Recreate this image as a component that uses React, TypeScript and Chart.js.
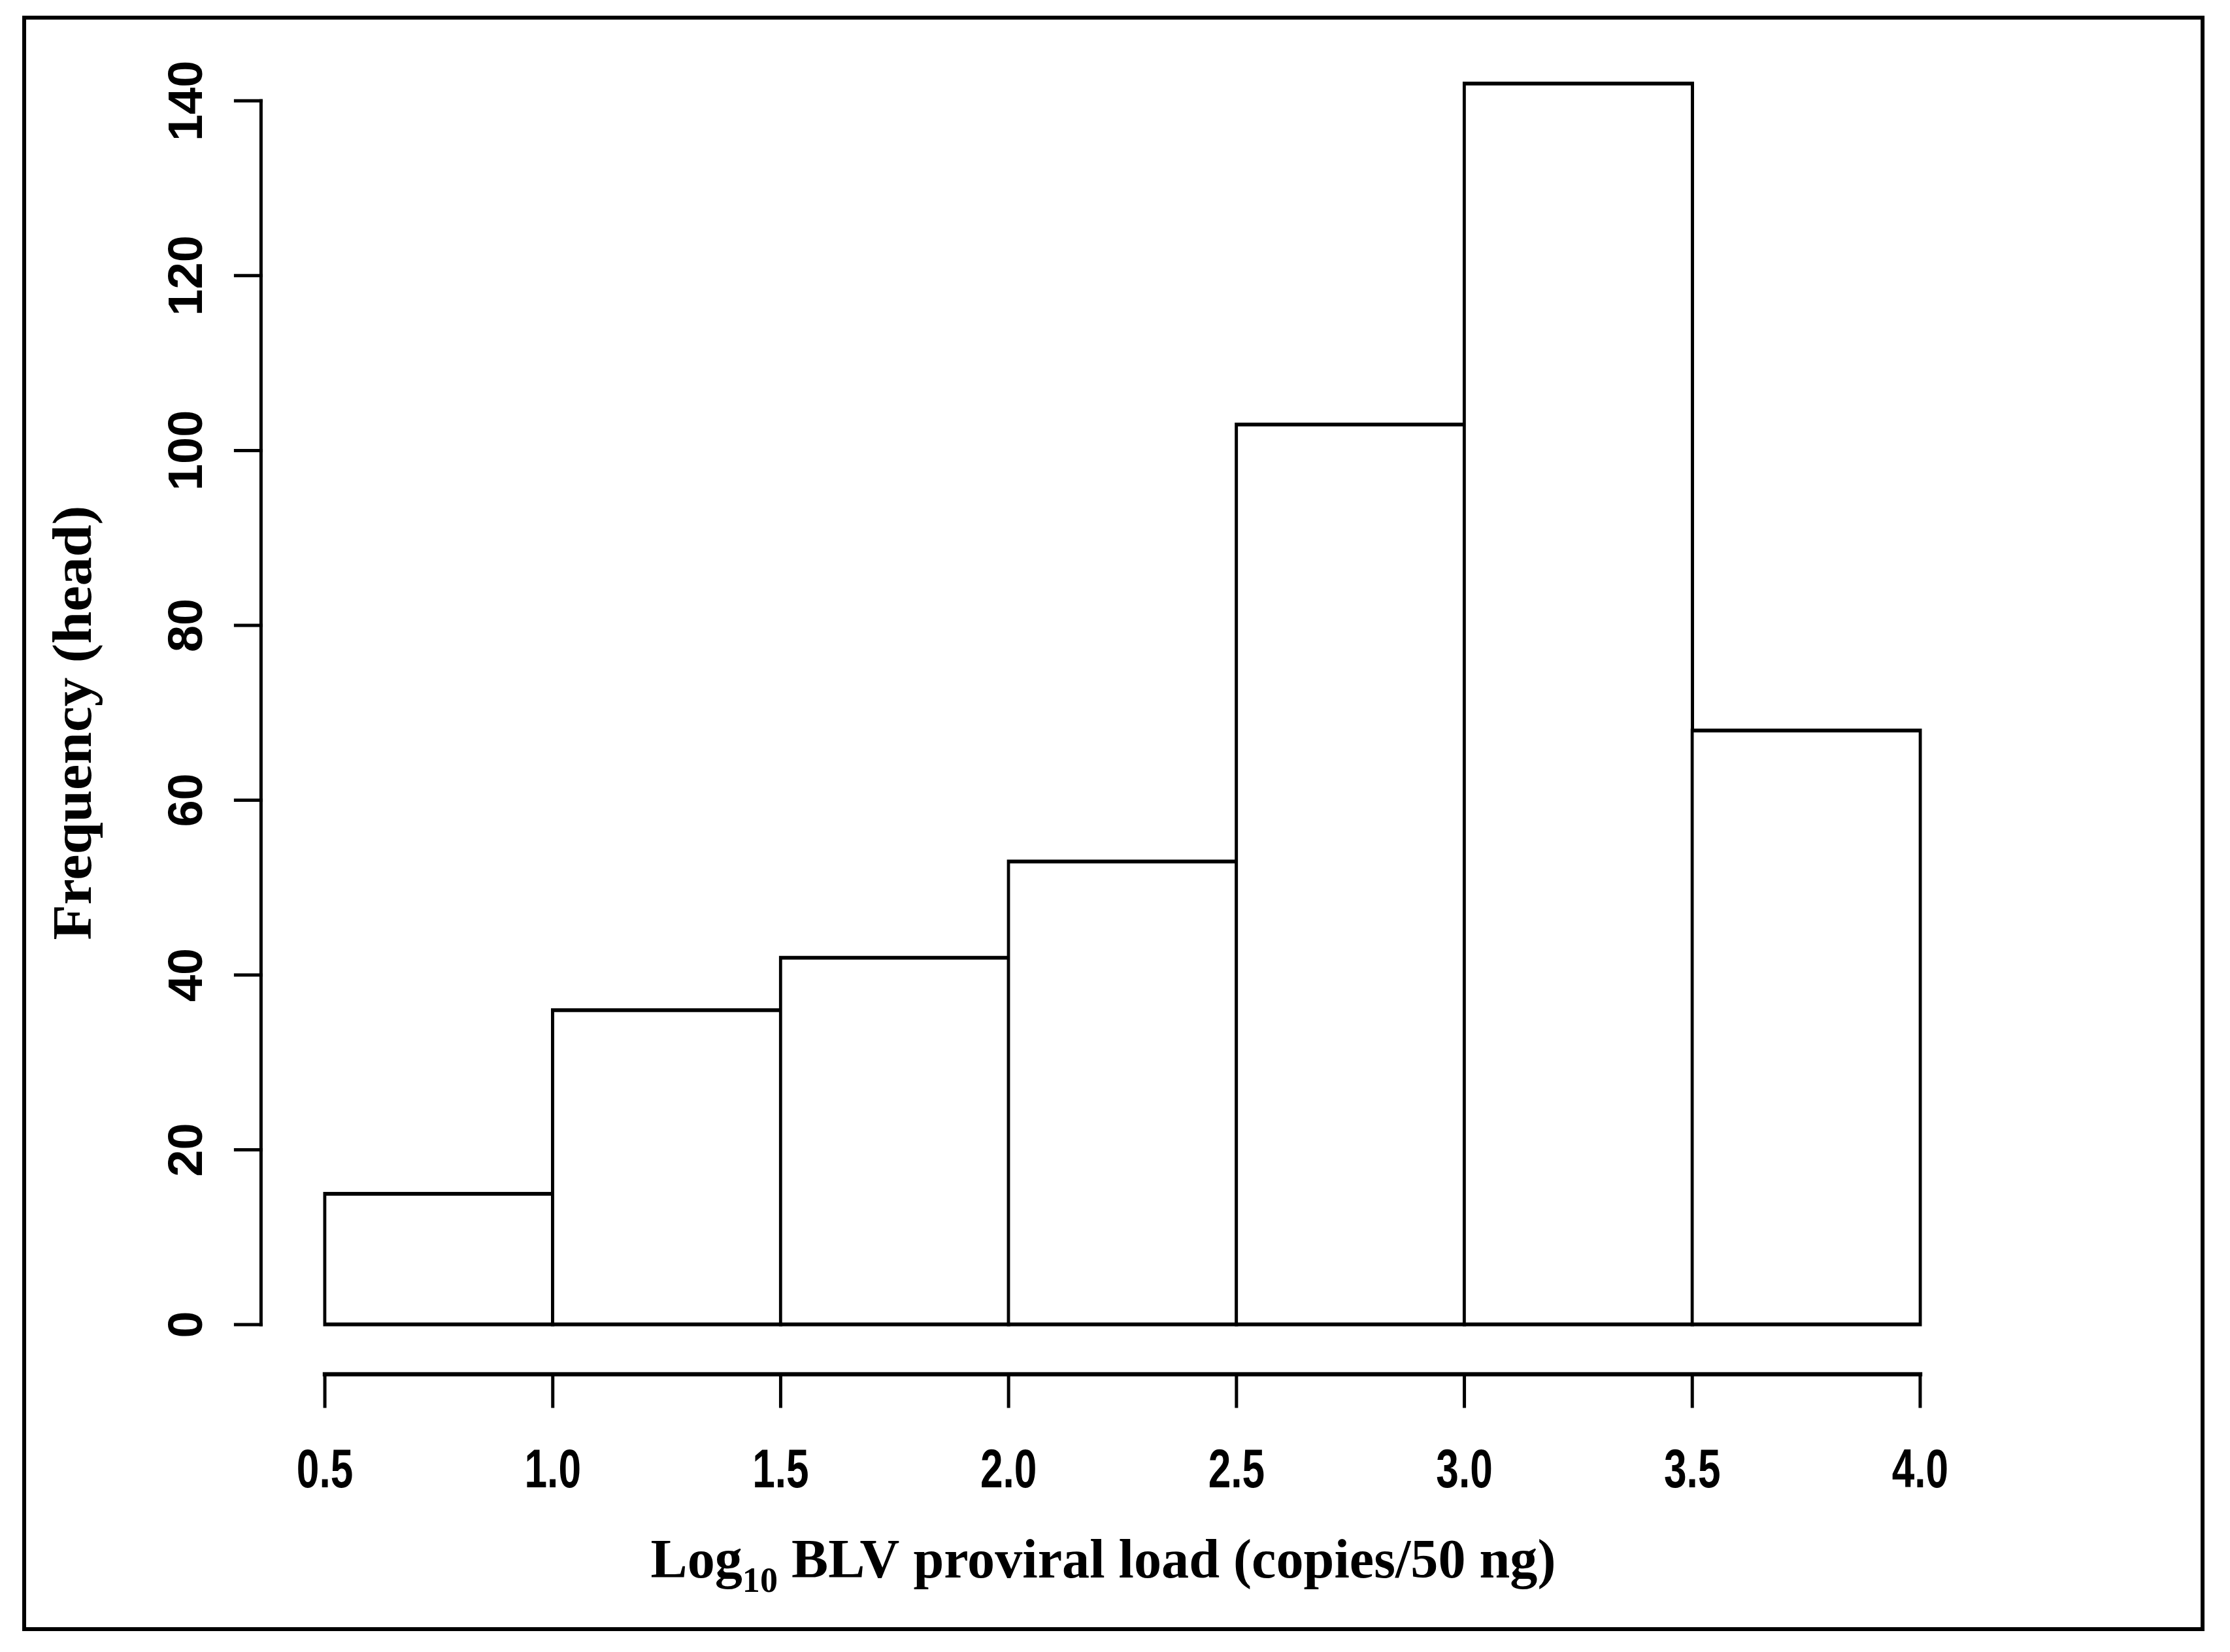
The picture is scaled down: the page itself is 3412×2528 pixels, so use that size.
import React, { useEffect, useRef } from 'react';
import { Chart, registerables } from 'chart.js';

Chart.register(...registerables);

// ---- data ----
const binEdges = [0.5, 1.0, 1.5, 2.0, 2.5, 3.0, 3.5, 4.0];
const counts = [15, 36, 42, 53, 103, 142, 68];
const yTicks = [0, 20, 40, 60, 80, 100, 120, 140];
const xTicks = [0.5, 1.0, 1.5, 2.0, 2.5, 3.0, 3.5, 4.0];
const xTickLabels = ['0.5', '1.0', '1.5', '2.0', '2.5', '3.0', '3.5', '4.0'];
const yTitle = 'Frequency (head)';
const xTitleMain = 'Log';
const xTitleSub = '10';
const xTitleRest = ' BLV proviral load (copies/50 ng)';

const W = 3412;
const H = 2528;

const SANS = "'Liberation Sans', Arial, Helvetica, sans-serif";
const SERIF = "'Liberation Serif', 'Times New Roman', serif";

const rAxesPlugin = {
  id: 'rAxes',
  beforeDraw(chart: any) {
    const ctx = chart.ctx;
    ctx.save();
    ctx.fillStyle = '#ffffff';
    ctx.fillRect(0, 0, chart.width, chart.height);
    ctx.restore();
  },
  afterDraw(chart: any) {
    const ctx: CanvasRenderingContext2D = chart.ctx;
    const xs = chart.scales.x;
    const ys = chart.scales.y;
    const area = chart.chartArea;
    ctx.save();
    ctx.strokeStyle = '#000';
    ctx.fillStyle = '#000';
    ctx.lineCap = 'square';

    // ---- Y axis (R style, from first to last tick) ----
    const ax = area.left;
    ctx.lineWidth = 5;
    ctx.beginPath();
    ctx.moveTo(ax, ys.getPixelForValue(yTicks[0]));
    ctx.lineTo(ax, ys.getPixelForValue(yTicks[yTicks.length - 1]));
    ctx.stroke();
    for (const t of yTicks) {
      const py = ys.getPixelForValue(t);
      ctx.beginPath();
      ctx.moveTo(ax, py);
      ctx.lineTo(ax - 39, py);
      ctx.stroke();
    }
    ctx.font = `bold 74px ${SANS}`;
    ctx.textAlign = 'center';
    ctx.textBaseline = 'alphabetic';
    for (const t of yTicks) {
      const py = ys.getPixelForValue(t);
      ctx.save();
      ctx.translate(ax - 90, py);
      ctx.rotate(-Math.PI / 2);
      ctx.fillText(String(t), 0, 0);
      ctx.restore();
    }

    // ---- X axis (R style, below the plot) ----
    const ay = area.bottom;
    ctx.lineWidth = 6.5;
    ctx.beginPath();
    ctx.moveTo(xs.getPixelForValue(xTicks[0]), ay);
    ctx.lineTo(xs.getPixelForValue(xTicks[xTicks.length - 1]), ay);
    ctx.stroke();
    ctx.lineWidth = 5;
    for (const t of xTicks) {
      const px = xs.getPixelForValue(t);
      ctx.beginPath();
      ctx.moveTo(px, ay);
      ctx.lineTo(px, ay + 49);
      ctx.stroke();
    }
    ctx.font = `bold 84px ${SANS}`;
    xTicks.forEach((t, i) => {
      const px = xs.getPixelForValue(t);
      ctx.save();
      ctx.translate(px, ay + 173);
      ctx.scale(0.74, 1);
      ctx.textAlign = 'center';
      ctx.fillText(xTickLabels[i], 0, 0);
      ctx.restore();
    });

    // ---- Y title ----
    ctx.font = `bold 84px ${SERIF}`;
    const yw = ctx.measureText(yTitle).width;
    ctx.save();
    ctx.translate(139, 1106);
    ctx.rotate(-Math.PI / 2);
    ctx.scale(665 / yw, 1);
    ctx.textAlign = 'center';
    ctx.fillText(yTitle, 0, 0);
    ctx.restore();

    // ---- X title with subscript ----
    const mainFont = `bold 84px ${SERIF}`;
    const subFont = `bold 54px ${SERIF}`;
    ctx.font = mainFont;
    const w1 = ctx.measureText(xTitleMain).width;
    const w3 = ctx.measureText(xTitleRest).width;
    ctx.font = subFont;
    const w2 = ctx.measureText(xTitleSub).width;
    const total = w1 + w2 + w3;
    const target = 1385;
    const s = target / total;
    ctx.save();
    ctx.translate(1688 - target / 2, 2414);
    ctx.scale(s, 1);
    ctx.textAlign = 'left';
    ctx.font = mainFont;
    ctx.fillText(xTitleMain, 0, 0);
    ctx.font = subFont;
    ctx.fillText(xTitleSub, w1, 22);
    ctx.font = mainFont;
    ctx.fillText(xTitleRest, w1 + w2, 0);
    ctx.restore();

    // ---- outer frame ----
    ctx.lineWidth = 6;
    ctx.lineCap = 'butt';
    ctx.lineJoin = 'miter';
    ctx.strokeRect(37, 27, 3333, 2466);

    ctx.restore();
  },
};

export default function App() {
  const ref = useRef<HTMLCanvasElement>(null);

  useEffect(() => {
    document.body.style.margin = '0';
    const centers = counts.map((_, i) => (binEdges[i] + binEdges[i + 1]) / 2);
    const chart = new Chart(ref.current as HTMLCanvasElement, {
      type: 'bar',
      data: {
        datasets: [
          {
            label: 'Frequency',
            data: centers.map((c, i) => ({ x: c, y: counts[i] })),
            backgroundColor: '#ffffff',
            borderColor: '#000000',
            borderWidth: { top: 6, bottom: 6, left: 5, right: 5 },
            borderSkipped: false,
            inflateAmount: 2.75,
            barPercentage: 1,
            categoryPercentage: 1,
          } as any,
        ],
      },
      options: {
        responsive: false,
        maintainAspectRatio: false,
        devicePixelRatio: 1,
        animation: false,
        layout: {
          padding: { left: 399.4, right: W - 3035.6, top: 51.6, bottom: H - 2103 },
        },
        scales: {
          x: {
            type: 'linear',
            min: 0.36,
            max: 4.14,
            offset: false,
            display: false,
            ticks: { stepSize: 0.5, includeBounds: false },
          },
          y: {
            type: 'linear',
            min: -5.68,
            max: 147.68,
            display: false,
            ticks: { stepSize: 20, includeBounds: false },
          },
        },
        plugins: {
          legend: { display: false },
          tooltip: { enabled: false },
          title: { display: false },
        },
      },
      plugins: [rAxesPlugin],
    });
    return () => chart.destroy();
  }, []);

  return (
    <div style={{ position: 'absolute', left: 0, top: 0, width: W, height: H, background: '#fff' }}>
      <canvas ref={ref} width={W} height={H} style={{ width: W, height: H, display: 'block' }} />
    </div>
  );
}
